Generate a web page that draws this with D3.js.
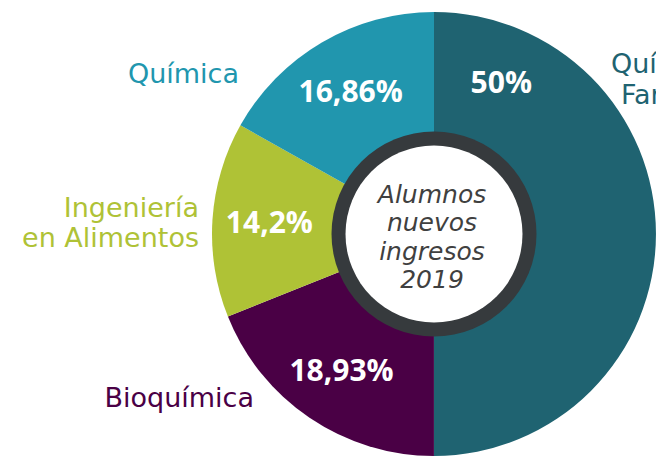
<!DOCTYPE html>
<html>
<head>
<meta charset="utf-8">
<script src="https://cdn.jsdelivr.net/npm/d3@7"></script>
<style>
  html, body { margin: 0; padding: 0; background: #fff; }
  svg { display: block; }
</style>
</head>
<body>
<div id="chart"></div>
<script>
// Alumnos nuevos ingresos 2019 - donut by carrera
var carreras = ["Química Farmacéutica", "Bioquímica", "Ingeniería en Alimentos", "Química"],
	porcentajes = [50, 18.93, 14.2, 16.86],
	etiquetas = ["50%", "18,93%", "14,2%", "16,86%"],
	colores = ["#1f6371", "#4a0045", "#afc236", "#2196ae"],
	centro = ["Alumnos", "nuevos", "ingresos", "2019"];

var width = 656,
	height = 459,
	cx = 434,
	cy = 234,
	radius = 222;

var svg = d3.select("#chart").append("svg")
	.attr("width", width)
	.attr("height", height);

var g = svg.append("g")
	.attr("transform", "translate(" + cx + "," + cy + ")");

var pie = d3.pie().sort(null).value(function(d) { return d; }),
	arc = d3.arc().innerRadius(0).outerRadius(radius),
	labelArc = d3.arc().innerRadius(165).outerRadius(165);

var arcs = pie(porcentajes);

g.selectAll(".slice")
	.data(arcs)
	.enter().append("path")
		.attr("class", "slice")
		.attr("d", arc)
		.style("fill", function(d, i) { return colores[i]; });

// the half-circle slice gets its label near the top, the rest at the middle
g.selectAll(".pct")
	.data(arcs)
	.enter().append("text")
		.attr("class", "pct")
		.attr("transform", function(d) {
			var a = (d.endAngle - d.startAngle > 2) ? d.startAngle + 0.42 : (d.startAngle + d.endAngle) / 2;
			var p = labelArc.centroid({startAngle: a, endAngle: a});
			return "translate(" + p[0] + "," + (p[1] + 10) + ")";
		})
		.attr("text-anchor", "middle")
		.style("font-family", "'Open Sans', sans-serif")
		.style("font-weight", "700")
		.style("font-size", "30px")
		.style("fill", "#fff")
		.text(function(d, i) { return etiquetas[i]; });

// ring + white hole
g.append("circle").attr("r", 102.5).style("fill", "#363a3d");
g.append("circle").attr("r", 88.5).style("fill", "#fff");

g.selectAll(".centro")
	.data(centro)
	.enter().append("text")
		.attr("class", "centro")
		.attr("x", -2)
		.attr("y", function(d, i) { return -31 + i * 28.3; })
		.attr("text-anchor", "middle")
		.style("font-family", "'DejaVu Sans', sans-serif")
		.style("font-style", "italic")
		.style("font-size", "25px")
		.style("fill", "#404040")
		.text(function(d) { return d; });

// category labels
var lab = [
	{lines: ["Química", "Farmacéutica"], xs: [611, 621], y: 73, dy: 31, anchor: "start", c: 0},
	{lines: ["Bioquímica"], xs: [254], y: 407, dy: 0, anchor: "end", c: 1},
	{lines: ["Ingeniería", "en Alimentos"], xs: [199, 199], y: 217, dy: 30, anchor: "end", c: 2},
	{lines: ["Química"], xs: [239], y: 83, dy: 0, anchor: "end", c: 3}
];

lab.forEach(function(l) {
	var t = svg.append("text")
		.attr("text-anchor", l.anchor)
		.style("font-family", "'DejaVu Sans', sans-serif")
		.style("font-size", "27px")
		.style("fill", colores[l.c]);
	l.lines.forEach(function(s, j) {
		t.append("tspan")
			.attr("x", l.xs[j])
			.attr("y", l.y + j * l.dy)
			.text(s);
	});
});
</script>
</body>
</html>
